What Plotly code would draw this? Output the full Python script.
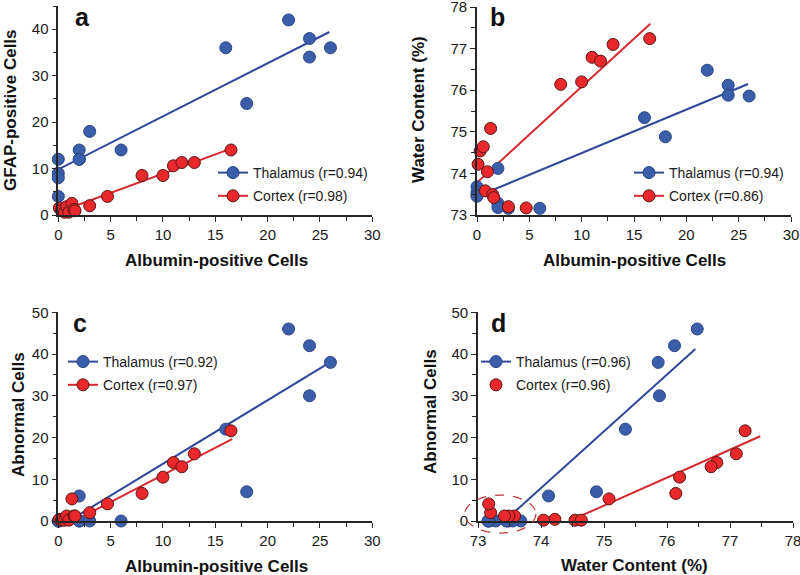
import plotly.graph_objects as go

# ---------------- data ----------------
thal_alb   = [0, 0, 0, 0, 2, 2, 2, 3, 6, 16, 18, 22, 24, 24, 26]
thal_gfap  = [12, 9, 8, 4, 14, 12, 12, 18, 14, 36, 24, 42, 38, 34, 36]
thal_water = [73.68, 73.55, 73.48, 73.45, 74.12, 73.28, 73.18, 73.16, 73.16,
              75.34, 74.88, 76.48, 76.12, 75.88, 75.86]
thal_abn   = [0, 0, 0, 0, 6, 0, 0, 0, 0, 22, 7, 46, 42, 30, 38]

cort_alb   = [0.1, 0.3, 0.6, 0.8, 1.0, 1.3, 1.5, 1.6, 3.0, 4.7, 8.0, 10.0, 11.0, 11.8, 13.0, 16.5]
cort_gfap  = [1.5, 1.0, 0.6, 1.8, 0.6, 2.5, 1.2, 0.9, 2.0, 4.0, 8.5, 8.5, 10.6, 11.3, 11.3, 14.0]
cort_water = [74.22, 74.54, 74.64, 73.58, 74.04, 75.08, 73.49, 73.42, 73.2, 73.17,
              76.14, 76.2, 76.79, 76.7, 77.1, 77.24]
cort_abn   = [0.4, 0.2, 0.2, 1.2, 0.2, 5.3, 1.2, 1.2, 2.0, 4.1, 6.6, 10.5, 14.0, 13.0, 16.1, 21.6]

# regression line end points as drawn in the reference
a_thal_fit_x, a_thal_fit_y = [0, 25.9], [9.8, 39.4]
a_cort_fit_x, a_cort_fit_y = [0.1, 16.5], [0.7, 14.3]
b_thal_fit_x, b_thal_fit_y = [1.2, 25.9], [73.57, 76.15]
b_cort_fit_x, b_cort_fit_y = [0, 16.56], [73.78, 77.6]
c_thal_fit_x, c_thal_fit_y = [1.0, 25.95], [0, 38.0]
c_cort_fit_x, c_cort_fit_y = [1.5, 16.6], [0, 19.6]
d_thal_fit_x, d_thal_fit_y = [73.42, 76.45], [0, 41.2]
d_cort_fit_x, d_cort_fit_y = [74.45, 77.48], [0, 20.3]

legend_a = ["Thalamus (r=0.94)", "Cortex (r=0.98)"]
legend_b = ["Thalamus (r=0.94)", "Cortex (r=0.86)"]
legend_c = ["Thalamus (r=0.92)", "Cortex (r=0.97)"]
legend_d = ["Thalamus (r=0.96)", "Cortex (r=0.96)"]

# ---------------- style ----------------
FONT = "Liberation Sans, Arial, sans-serif"
BLUE_FILL, BLUE_EDGE, BLUE_LINE = "#3b5eab", "#2a4585", "#30479a"
RED_FILL, RED_EDGE, RED_LINE = "#e8282b", "#5a1414", "#d52a30"
AX = "#262626"

W, H = 800, 575
# panel pixel boxes: (x0, x1, ytop, ybottom)
boxes = {
    1: (58.3, 372.3, 6.0, 215.0),
    2: (477.0, 791.0, 7.0, 215.0),
    3: (58.3, 372.3, 312.3, 521.0),
    4: (478.0, 793.0, 312.3, 521.0),
}
ranges = {
    1: ([0, 30], [0, 45]),
    2: ([0, 30], [73, 78]),
    3: ([0, 30], [0, 50]),
    4: ([73, 78], [0, 50]),
}

fig = go.Figure()


def gapped(vals):
    out = []
    for v in vals:
        out += [v, None]
    return out


def add_panel(k, tx, ty, cx, cy, tfx, tfy, cfx, cfy, names, cortex_line_in_legend=True):
    xa = "x" if k == 1 else f"x{k}"
    ya = "y" if k == 1 else f"y{k}"
    lg = "legend" if k == 1 else f"legend{k}"
    # fit lines
    fig.add_trace(go.Scatter(x=tfx, y=tfy, mode="lines", line=dict(color=BLUE_LINE, width=2),
                             xaxis=xa, yaxis=ya, showlegend=False, hoverinfo="skip"))
    fig.add_trace(go.Scatter(x=cfx, y=cfy, mode="lines", line=dict(color=RED_LINE, width=2),
                             xaxis=xa, yaxis=ya, showlegend=False, hoverinfo="skip"))
    # points (None gaps => no connecting line, but legend shows line + marker)
    fig.add_trace(go.Scatter(x=gapped(tx), y=gapped(ty), mode="lines+markers", connectgaps=False,
                             line=dict(color=BLUE_LINE, width=2),
                             marker=dict(size=12, color=BLUE_FILL, line=dict(color=BLUE_EDGE, width=1)),
                             name=names[0], legend=lg, legendgroup=f"t{k}", cliponaxis=False,
                             xaxis=xa, yaxis=ya))
    fig.add_trace(go.Scatter(x=gapped(cx), y=gapped(cy),
                             mode="lines+markers" if cortex_line_in_legend else "markers",
                             connectgaps=False,
                             line=dict(color=RED_LINE, width=2),
                             marker=dict(size=12, color=RED_FILL, line=dict(color=RED_EDGE, width=1)),
                             name=names[1], legend=lg, legendgroup=f"c{k}", cliponaxis=False,
                             xaxis=xa, yaxis=ya))


add_panel(1, thal_alb, thal_gfap, cort_alb, cort_gfap,
          a_thal_fit_x, a_thal_fit_y, a_cort_fit_x, a_cort_fit_y, legend_a)
add_panel(2, thal_alb, thal_water, cort_alb, cort_water,
          b_thal_fit_x, b_thal_fit_y, b_cort_fit_x, b_cort_fit_y, legend_b)
add_panel(3, thal_alb, thal_abn, cort_alb, cort_abn,
          c_thal_fit_x, c_thal_fit_y, c_cort_fit_x, c_cort_fit_y, legend_c)
add_panel(4, thal_water, thal_abn, cort_water, cort_abn,
          d_thal_fit_x, d_thal_fit_y, d_cort_fit_x, d_cort_fit_y, legend_d,
          cortex_line_in_legend=False)

dticks = {1: (5, 10), 2: (5, 1), 3: (5, 10), 4: (1, 10)}

layout = dict(
    width=W, height=H, margin=dict(l=0, r=0, t=0, b=0, autoexpand=False),
    paper_bgcolor="white", plot_bgcolor="white",
    font=dict(family=FONT, size=14, color="#1a1a1a"),
    showlegend=True,
)

for k, (x0, x1, yt, yb) in boxes.items():
    xr, yr = ranges[k]
    xd, yd = dticks[k]
    xname = "xaxis" if k == 1 else f"xaxis{k}"
    yname = "yaxis" if k == 1 else f"yaxis{k}"
    xa = "x" if k == 1 else f"x{k}"
    ya = "y" if k == 1 else f"y{k}"
    common = dict(showline=True, linecolor=AX, linewidth=1.6, ticks="outside", ticklen=5,
                  tickwidth=1.4, tickcolor=AX, showgrid=False, zeroline=False, automargin=False,
                  ticklabeloverflow="allow",
                  tickfont=dict(family=FONT, size=15, color="#1a1a1a"), fixedrange=True)
    layout[xname] = dict(domain=[x0 / W, x1 / W], range=xr, anchor=ya, dtick=xd, tick0=xr[0],
                         minor=dict(dtick=xd / 2, ticks="outside", ticklen=4, tickwidth=1.4,
                                    tickcolor=AX, showgrid=False), **common)
    layout[yname] = dict(domain=[1 - yb / H, 1 - yt / H], range=yr, anchor=xa, dtick=yd, tick0=yr[0],
                         minor=dict(dtick=yd / 2, ticks="outside", ticklen=4, tickwidth=1.4,
                                    tickcolor=AX, showgrid=False), **common)

# legends (pixel positions of legend box top-left)
leg_px = {1: (213, 157), 2: (629, 157), 3: (63, 346), 4: (476, 346)}
for k, (lx, ly) in leg_px.items():
    name = "legend" if k == 1 else f"legend{k}"
    layout[name] = dict(x=lx / W, y=1 - ly / H, xanchor="left", yanchor="top",
                        bgcolor="rgba(0,0,0,0)", borderwidth=0, itemwidth=30,
                        tracegroupgap=2, traceorder="grouped",
                        font=dict(family=FONT, size=14, color="#1a1a1a"))

fig.update_layout(**layout)

# panel letters and axis titles
ann = []
letters = {"a": (82, 17), "b": (497, 17), "c": (80, 323), "d": (498, 323)}
for t, (px, py) in letters.items():
    ann.append(dict(text=f"<b>{t}</b>", x=px / W, y=1 - py / H, xref="paper", yref="paper",
                    xanchor="center", yanchor="middle",
                    showarrow=False, font=dict(family=FONT, size=25, color="#111")))
xtitles = [("Albumin-positive Cells", 216, 260), ("Albumin-positive Cells", 634, 260),
           ("Albumin-positive Cells", 216, 566), ("Water Content (%)", 634, 565)]
for t, px, py in xtitles:
    ann.append(dict(text=f"<b>{t}</b>", x=px / W, y=1 - py / H, xref="paper", yref="paper",
                    xanchor="center", yanchor="middle",
                    showarrow=False, font=dict(family=FONT, size=17, color="#111")))
ytitles = [("GFAP-positive Cells", 10, 110), ("Water Content (%)", 418, 110),
           ("Abnormal Cells", 18, 415), ("Abnormal Cells", 430, 412)]
for t, px, py in ytitles:
    ann.append(dict(text=f"<b>{t}</b>", x=px / W, y=1 - py / H, xref="paper", yref="paper",
                    xanchor="center", yanchor="middle",
                    showarrow=False, textangle=-90, font=dict(family=FONT, size=17, color="#111")))
fig.update_layout(annotations=ann)

# dashed ellipse around the low-water cluster in panel d (given in data units, converted to paper)
ell_x, ell_y = [72.79, 73.92], [-2.9, 6.2]
x0, x1, yt, yb = boxes[4]
(xr0, xr1), (yr0, yr1) = ranges[4]
to_px_x = lambda v: x0 + (v - xr0) / (xr1 - xr0) * (x1 - x0)
to_px_y = lambda v: yb - (v - yr0) / (yr1 - yr0) * (yb - yt)
fig.add_shape(type="circle", xref="paper", yref="paper",
              x0=to_px_x(ell_x[0]) / W, x1=to_px_x(ell_x[1]) / W,
              y0=1 - to_px_y(ell_y[0]) / H, y1=1 - to_px_y(ell_y[1]) / H,
              line=dict(color="#c0393b", width=1.2, dash="dash"))

fig.write_html("out.html", config={"displayModeBar": False},
               post_script="document.body.style.margin='0px';document.body.style.overflow='hidden';")
